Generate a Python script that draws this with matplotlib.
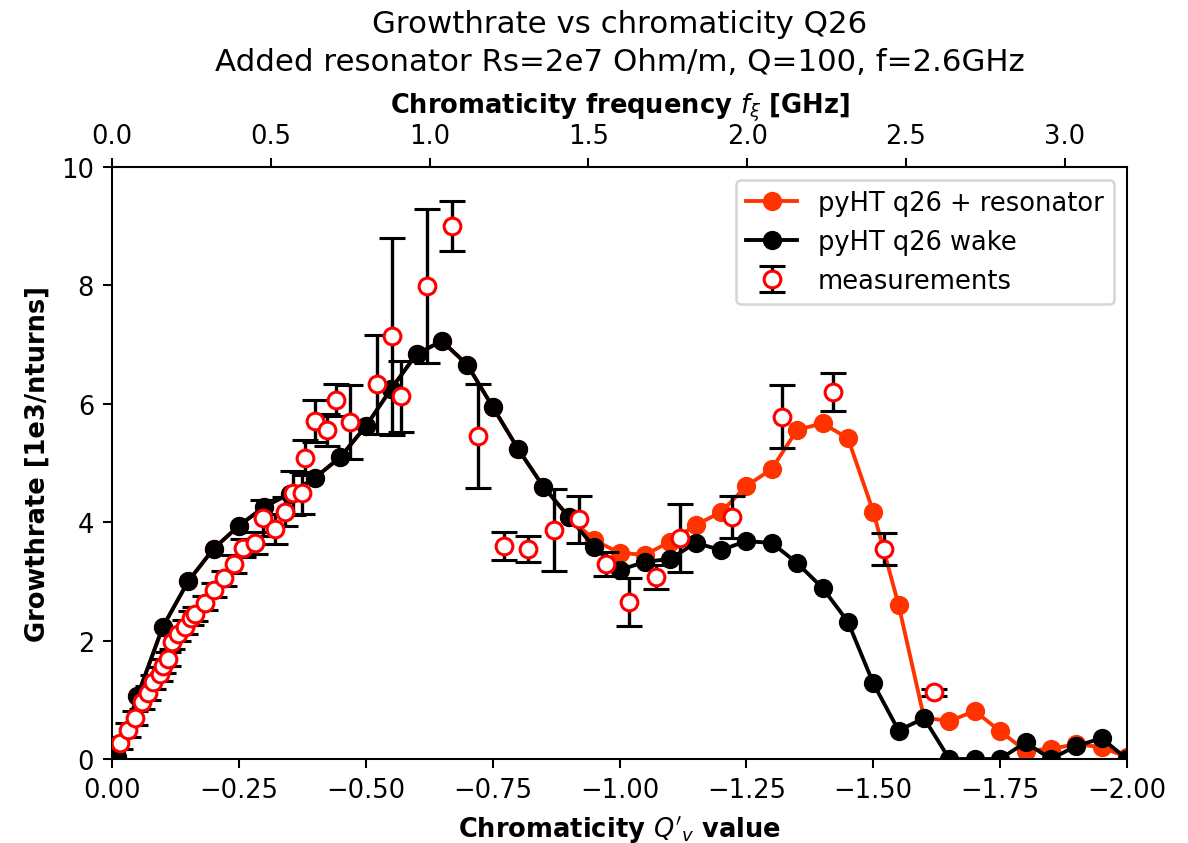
import matplotlib
matplotlib.use("Agg")
import matplotlib.pyplot as plt

# ---- simulation data ----
sim_q = [-0.01, -0.05, -0.10, -0.15, -0.20, -0.25, -0.30, -0.35, -0.40, -0.45,
         -0.50, -0.55, -0.60, -0.65, -0.70, -0.75, -0.80, -0.85, -0.90, -0.95,
         -1.00, -1.05, -1.10, -1.15, -1.20, -1.25, -1.30, -1.35, -1.40, -1.45,
         -1.50, -1.55, -1.60, -1.65, -1.70, -1.75, -1.80, -1.85, -1.90, -1.95, -2.00]
wake_growth = [0.03, 1.06, 2.23, 3.00, 3.55, 3.94, 4.26, 4.48, 4.75, 5.10,
               5.62, 6.25, 6.84, 7.06, 6.66, 5.95, 5.24, 4.60, 4.09, 3.58,
               3.19, 3.33, 3.38, 3.65, 3.53, 3.68, 3.65, 3.31, 2.89, 2.32,
               1.28, 0.48, 0.69, 0.00, 0.00, 0.00, 0.28, 0.00, 0.22, 0.35, 0.00]
res_growth = [0.03, 1.06, 2.23, 3.00, 3.55, 3.94, 4.26, 4.48, 4.75, 5.10,
              5.62, 6.25, 6.84, 7.06, 6.66, 5.95, 5.24, 4.60, 4.09, 3.70,
              3.48, 3.45, 3.67, 3.95, 4.17, 4.61, 4.90, 5.56, 5.67, 5.42,
              4.18, 2.60, 0.70, 0.64, 0.81, 0.47, 0.14, 0.17, 0.25, 0.20, 0.03]

# ---- measurements ----
meas_q = [-0.016, -0.031, -0.045, -0.060, -0.070, -0.081, -0.095, -0.100, -0.110, -0.118,
          -0.130, -0.144, -0.156, -0.164, -0.183, -0.200, -0.220, -0.240, -0.258, -0.282,
          -0.298, -0.321, -0.341, -0.357, -0.374, -0.381, -0.400, -0.423, -0.441, -0.469,
          -0.522, -0.552, -0.569, -0.621, -0.670, -0.721, -0.772, -0.820, -0.871, -0.920,
          -0.973, -1.019, -1.071, -1.119, -1.221, -1.320, -1.421, -1.521, -1.620]
meas_growth = [0.27, 0.49, 0.69, 0.96, 1.11, 1.30, 1.44, 1.57, 1.69, 1.97,
               2.11, 2.23, 2.38, 2.45, 2.64, 2.85, 3.05, 3.29, 3.57, 3.65,
               4.07, 3.89, 4.18, 4.49, 4.49, 5.09, 5.71, 5.56, 6.07, 5.69,
               6.33, 7.14, 6.13, 7.99, 9.00, 5.45, 3.60, 3.54, 3.87, 4.05,
               3.29, 2.65, 3.07, 3.73, 4.09, 5.78, 6.20, 3.55, 1.13]
meas_err = [0.10, 0.12, 0.12, 0.12, 0.12, 0.12, 0.12, 0.12, 0.12, 0.12,
            0.12, 0.12, 0.12, 0.12, 0.12, 0.12, 0.12, 0.15, 0.15, 0.18,
            0.30, 0.25, 0.25, 0.37, 0.35, 0.30, 0.35, 0.27, 0.27, 0.63,
            0.84, 1.66, 0.60, 1.30, 0.42, 0.88, 0.24, 0.22, 0.69, 0.40,
            0.20, 0.41, 0.20, 0.57, 0.36, 0.53, 0.32, 0.27, 0.06]

freq_ticks = [0.0, 0.5, 1.0, 1.5, 2.0, 2.5, 3.0]
q_ticks = [0.0, -0.25, -0.5, -0.75, -1.0, -1.25, -1.5, -1.75, -2.0]
GHZ_PER_Q = 1.598

DPI = 185
fig = plt.figure(figsize=(1188 / DPI, 844 / DPI), dpi=DPI)
ax = fig.add_axes([112 / 1188, 84 / 844, 1015 / 1188, 592 / 844])

red = '#ff3300'
ax.plot(sim_q, res_growth, '-o', color=red, markersize=6.5, lw=1.5,
        label='pyHT q26 + resonator', zorder=2)
ax.plot(sim_q, wake_growth, '-o', color='black', markersize=6.5, lw=1.5,
        label='pyHT q26 wake', zorder=3)
ax.errorbar(meas_q, meas_growth, yerr=meas_err, fmt='o', color='black',
            ecolor='black', markerfacecolor='white', markeredgecolor='red',
            markersize=6.5, markeredgewidth=1.2, capsize=5, elinewidth=1.3,
            capthick=1.3, label='measurements', zorder=4)

ax.set_xlim(0, -2)
ax.set_ylim(0, 10)
ax.set_xticks(q_ticks)
ax.set_yticks([0, 2, 4, 6, 8, 10])
ax.set_xlabel("Chromaticity $Q'_v$ value", fontweight='bold')
ax.set_ylabel("Growthrate [1e3/nturns]", fontweight='bold')

sec = ax.secondary_xaxis('top', functions=(lambda q: -q * GHZ_PER_Q,
                                           lambda f: -f / GHZ_PER_Q))
sec.set_xticks(freq_ticks)
sec.set_xlabel(r"Chromaticity frequency $f_\xi$ [GHz]", fontweight='bold')

ax.set_title("Growthrate vs chromaticity Q26\nAdded resonator Rs=2e7 Ohm/m, Q=100, f=2.6GHz",
             fontsize=12, linespacing=1.4, pad=8)
ax.legend(loc='upper right')

fig.savefig('out.png', dpi=DPI)
